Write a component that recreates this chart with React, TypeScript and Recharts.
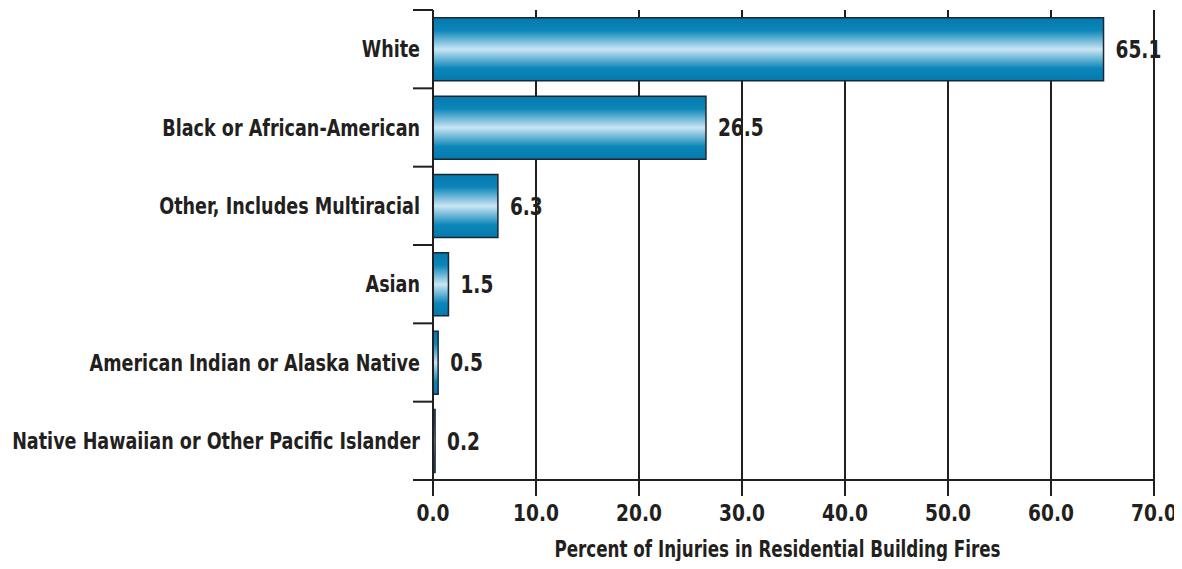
import React from "react";
import {
  BarChart,
  Bar,
  XAxis,
  YAxis,
  CartesianGrid,
  LabelList,
  Label,
} from "recharts";

// Race of injured people, percent of injuries in residential building fires
const categories = [
  "White",
  "Black or African-American",
  "Other, Includes Multiracial",
  "Asian",
  "American Indian or Alaska Native",
  "Native Hawaiian or Other Pacific Islander",
];
const percents = [65.1, 26.5, 6.3, 1.5, 0.5, 0.2];
const xTicks = [0, 10, 20, 30, 40, 50, 60, 70];
const xTitle = "Percent of Injuries in Residential Building Fires";

const data = categories.map((name, i) => ({ name, value: percents[i] }));

const W = 1174;
const H = 553;
const TOP = 2;
const BOTTOM_AXIS = 81;
const INK = "#231f20";
const FONT = "'Liberation Sans Narrow', 'DejaVu Sans Condensed', sans-serif";

const halfBand = (H - TOP - BOTTOM_AXIS) / categories.length / 2;

// condensed bold text, squeezed horizontally around its anchor
function Narrow({ x, y, anchor, size, squeeze, children }: any) {
  return (
    <text
      transform={`translate(${x},${y}) scale(${squeeze},1)`}
      textAnchor={anchor}
      dominantBaseline="central"
      fill={INK}
      fontFamily={FONT}
      fontWeight="bold"
      fontSize={size}
    >
      {children}
    </text>
  );
}

function CategoryTick(props: any) {
  const { x, y, payload, index } = props;
  const last = index === categories.length - 1;
  return (
    <g>
      <line x1={x - 20} x2={x} y1={y - halfBand} y2={y - halfBand} stroke={INK} strokeWidth={2} />
      {last && (
        <line x1={x - 20} x2={x} y1={y + halfBand} y2={y + halfBand} stroke={INK} strokeWidth={2} />
      )}
      <Narrow x={x - 13} y={y} anchor="end" size={23} squeeze={0.85}>
        {payload.value}
      </Narrow>
    </g>
  );
}

function PercentTick(props: any) {
  const { x, y, payload } = props;
  return (
    <Narrow x={x} y={y + 8} anchor="middle" size={23} squeeze={0.9}>
      {Number(payload.value).toFixed(1)}
    </Narrow>
  );
}

function ValueLabel(props: any) {
  const { x, y, width, height, value } = props;
  return (
    <Narrow x={x + width + 12} y={y + height / 2} anchor="start" size={24} squeeze={0.86}>
      {Number(value).toFixed(1)}
    </Narrow>
  );
}

function TitleLabel(props: any) {
  const { viewBox } = props;
  const cx = viewBox.x + viewBox.width / 2 - 16;
  return (
    <Narrow x={cx} y={viewBox.y + viewBox.height - 12} anchor="middle" size={23} squeeze={0.81}>
      {xTitle}
    </Narrow>
  );
}

export default function App() {
  return (
    <div style={{ width: W, height: H, lineHeight: 0 }}>
      <BarChart
        width={W}
        height={H}
        data={data}
        layout="vertical"
        margin={{ top: TOP, right: 28, left: 0, bottom: 0 }}
        barCategoryGap="10%"
      >
        <defs>
          <linearGradient id="barShine" x1="0" y1="0" x2="0" y2="1">
            <stop offset="0%" stopColor="#0579ad" />
            <stop offset="20%" stopColor="#0c86b9" />
            <stop offset="50%" stopColor="#c9e5f4" />
            <stop offset="80%" stopColor="#0c86b9" />
            <stop offset="100%" stopColor="#0579ad" />
          </linearGradient>
        </defs>
        <CartesianGrid horizontal={false} stroke={INK} strokeWidth={2} />
        <XAxis
          type="number"
          domain={[0, 70]}
          ticks={xTicks}
          interval={0}
          height={BOTTOM_AXIS}
          tick={<PercentTick />}
          tickSize={16}
          tickMargin={9}
          tickLine={{ stroke: INK, strokeWidth: 2 }}
          axisLine={{ stroke: INK, strokeWidth: 2 }}
        >
          <Label content={TitleLabel} />
        </XAxis>
        <XAxis
          xAxisId="top"
          type="number"
          orientation="top"
          domain={[0, 70]}
          height={0}
          tick={false}
          tickLine={false}
          axisLine={{ stroke: INK, strokeWidth: 2 }}
        />
        <YAxis
          type="category"
          dataKey="name"
          width={425}
          interval={0}
          tickSize={0}
          tickMargin={0}
          tickLine={false}
          axisLine={{ stroke: INK, strokeWidth: 2 }}
          tick={<CategoryTick />}
        />
        <Bar
          dataKey="value"
          fill="url(#barShine)"
          stroke="#1b2833"
          strokeWidth={1.5}
          isAnimationActive={false}
        >
          <LabelList dataKey="value" content={<ValueLabel />} />
        </Bar>
      </BarChart>
    </div>
  );
}
